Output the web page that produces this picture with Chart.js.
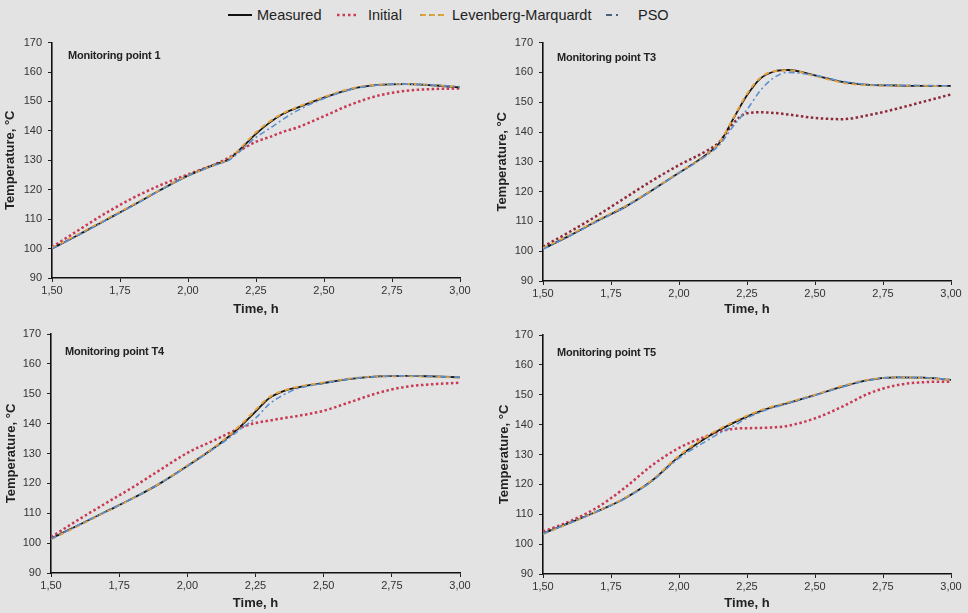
<!DOCTYPE html>
<html>
<head>
<meta charset="utf-8">
<script src="https://cdn.jsdelivr.net/npm/chart.js@4.4.1/dist/chart.umd.min.js"></script>
<style>
  html, body { margin:0; padding:0; }
  body { width:968px; height:613px; background:#e3e3e3; position:relative; overflow:hidden; font-family:"Liberation Sans", Arial, sans-serif; }
  canvas { position:absolute; }
  .lg { position:absolute; top:6px; font-size:14.5px; color:#222; white-space:nowrap; line-height:18px; }
  .sw { position:absolute; top:6px; }
  .pl { position:absolute; font-weight:bold; font-size:11px; color:#222; white-space:nowrap; letter-spacing:-0.2px; }
</style>
</head>
<body>
<svg class="sw" style="left:228px" width="24" height="18"><line x1="0" y1="9" x2="24" y2="9" stroke="#111" stroke-width="2"/></svg>
<div class="lg" style="left:257px">Measured</div>
<svg class="sw" style="left:336px" width="22" height="18"><line x1="1" y1="9" x2="21" y2="9" stroke="#c83a55" stroke-width="2.5" stroke-dasharray="2.5,3"/></svg>
<div class="lg" style="left:368px">Initial</div>
<svg class="sw" style="left:420px" width="26" height="18"><line x1="0" y1="9" x2="26" y2="9" stroke="#e6a23c" stroke-width="2" stroke-dasharray="6,3"/><line x1="0" y1="9" x2="26" y2="9" stroke="#7aa860" stroke-width="1" stroke-dasharray="2,7"/></svg>
<div class="lg" style="left:452px">Levenberg-Marquardt</div>
<svg class="sw" style="left:606px" width="22" height="18"><line x1="0" y1="9" x2="22" y2="9" stroke="#4a5f78" stroke-width="2" stroke-dasharray="6,4,2,10"/></svg>
<div class="lg" style="left:638px">PSO</div>

<canvas id="c1" width="480" height="290" style="left:0;top:30px"></canvas>
<canvas id="c2" width="488" height="290" style="left:480px;top:30px"></canvas>
<canvas id="c3" width="480" height="293" style="left:0;top:320px"></canvas>
<canvas id="c4" width="488" height="293" style="left:480px;top:320px"></canvas>

<div class="pl" style="left:68px;top:49px">Monitoring point 1</div>
<div class="pl" style="left:557px;top:51px">Monitoring point T3</div>
<div class="pl" style="left:65px;top:345px">Monitoring point T4</div>
<div class="pl" style="left:557px;top:346px">Monitoring point T5</div>

<script>
const times = [1.5,1.6,1.7,1.8,1.9,2.0,2.1,2.15,2.2,2.25,2.3,2.35,2.4,2.5,2.6,2.7,2.8,2.9,3.0];
const xTicks = [1.5,1.75,2.0,2.25,2.5,2.75,3.0];
const yTicks = [90,100,110,120,130,140,150,160,170];
const seriesNames = ['Measured','Initial','Levenberg-Marquardt','PSO'];

// Monitoring point 1
const p1Measured = [100,104.8,109.8,114.8,120,124.8,128.6,130.3,134.5,139,142.8,145.8,147.8,151.3,154.2,155.6,155.9,155.5,154.8];
const p1Initial  = [100.5,106.4,112.2,117.3,121.6,125.2,128.7,130.9,133.8,136.3,137.9,139.7,141.1,145,149,152,153.6,154.2,154.4];
const p1LM       = [100.2,105,110,115,120.1,124.8,128.5,130.4,134.8,139.5,143.2,146,148,151.5,154.4,155.7,155.9,155.6,154.9];
const p1PSO      = [100,104.7,109.7,114.7,119.9,124.7,128.4,130,133.8,137.8,140.8,144,146.8,151,154.1,155.6,155.9,155.6,155];

// Monitoring point T3
const p3Measured = [100.8,105.3,110.2,114.8,120.4,126.3,132.4,136.5,144.5,152.3,158,160.3,160.8,159,156.8,155.8,155.6,155.5,155.5];
const p3Initial  = [101.5,106.6,112,117.8,123.6,128.9,133.6,136.8,143,146.3,146.6,146.4,145.9,144.7,144.3,145.7,147.8,150.2,152.6];
const p3LM       = [101,105.5,110.4,115,120.5,126.4,132.3,136.6,144.8,152.8,158.3,160.4,160.7,158.8,156.6,155.7,155.6,155.5,155.4];
const p3PSO      = [100.7,105.2,110,114.7,120.3,126.2,132,135.8,142,147.5,154,158.3,160,159,157,155.9,155.7,155.6,155.5];

// Monitoring point T4
const p4Measured = [101.5,106,110.5,115,120,125.8,132,135.5,139.5,144,148.5,150.8,152,153.6,155,155.8,156,155.8,155.5];
const p4Initial  = [102,107.8,113.3,118.7,124.5,130.2,134.5,136.7,138.8,140.2,141,141.8,142.5,144.3,147.3,150.3,152.3,153.2,153.7];
const p4LM       = [101.3,105.8,110.4,115,120.1,126,132.2,135.8,140,144.6,148.8,151,152.2,153.8,155.1,155.8,155.9,155.7,155.4];
const p4PSO      = [101.4,106,110.5,115,120,125.7,131.8,135,138.5,141.8,146.5,149.5,151.6,153.5,155,155.8,156,155.8,155.5];

// Monitoring point T5
const p5Measured = [103.6,107.2,111,115.3,121.2,129.3,135.6,138.3,140.6,142.7,144.5,146,147.2,149.9,152.7,155,155.8,155.7,155];
const p5Initial  = [104.2,107.7,112.3,118.8,126.3,132.2,136.1,137.7,138.6,138.8,138.9,139.1,139.6,142.1,146,150.5,153.2,154.2,154.4];
const p5LM       = [103.4,107.1,111,115.4,121.4,129.6,136,138.6,140.9,143,144.8,146.2,147.4,150,152.9,155.1,155.8,155.6,154.9];
const p5PSO      = [103.5,107.1,110.9,115.2,121,128.8,134.5,137.2,139.5,142.2,144.2,145.8,147.1,149.8,152.6,154.9,155.8,155.7,155.1];

const FONT = '"Liberation Sans", Arial, sans-serif';
const pts = arr => arr.map((v,i) => ({x: times[i], y: v}));
const fmt = v => Number(v).toFixed(2).replace('.', ',');

function makePanel(id, m, ini, lm, pso, L) {
  const base = {pointRadius:0, fill:false, cubicInterpolationMode:'monotone'};
  new Chart(document.getElementById(id), {
    type: 'line',
    data: {
      datasets: [
        Object.assign({label: seriesNames[1], data: pts(ini), borderColor: L.initColor, borderWidth: 2.5, borderDash:[2.5,2.5], order:4}, base),
        Object.assign({label: seriesNames[0], data: pts(m), borderColor: '#151515', borderWidth: 1.8, order:3}, base),
        Object.assign({label: seriesNames[2], data: pts(lm), borderColor: '#e6a23c', borderWidth: 2, borderDash:[5,4], order:2}, base),
        Object.assign({label: seriesNames[3], data: pts(pso), borderColor: '#5b8fd0', borderWidth: 1.6, borderDash:[6,3,2,3], order:1}, base)
      ]
    },
    options: {
      responsive: false, animation: false, devicePixelRatio: 1,
      layout: {padding: {top: L.pt, right: L.pr, left: 0, bottom: 0}},
      plugins: {legend: {display: false}, tooltip: {enabled: false}},
      scales: {
        x: {
          type: 'linear', min: 1.5, max: 3.0,
          afterBuildTicks: s => { s.ticks = xTicks.map(v => ({value: v})); },
          ticks: {callback: fmt, font: {size: 11, family: FONT}, color: '#333', padding: 2, maxRotation: 0, autoSkip: false},
          grid: {display: true, drawOnChartArea: false, drawTicks: true, tickLength: 4, color: '#222'},
          border: {color: '#111', width: 1.6},
          title: {display: true, text: 'Time, h', color: '#222', font: {size: 13, weight: 'bold', family: FONT}, padding: {top: 0, bottom: L.xtp}},
          afterFit: s => { s.height = L.xh; }
        },
        y: {
          min: 90, max: 170,
          afterBuildTicks: s => { s.ticks = yTicks.map(v => ({value: v})); },
          ticks: {font: {size: 11, family: FONT}, color: '#333', padding: 6},
          grid: {display: true, drawOnChartArea: false, drawTicks: true, tickLength: 4, color: '#222'},
          border: {color: '#111', width: 1.6},
          title: {display: true, text: 'Temperature, °C', color: '#222', font: {size: 13, weight: 'bold', family: FONT}, padding: {top: L.ytp, bottom: 0}},
          afterFit: s => { s.width = L.yw; }
        }
      }
    }
  });
}

makePanel('c1', p1Measured, p1Initial, p1LM, p1PSO, {pt:10, pr:20, xh:42, yw:52, xtp:3, ytp:3, initColor:'#c83a55'});
makePanel('c2', p3Measured, p3Initial, p3LM, p3PSO, {pt:12, pr:17, xh:39, yw:63, xtp:3, ytp:15, initColor:'#8e2a3a'});
makePanel('c3', p4Measured, p4Initial, p4LM, p4PSO, {pt:14, pr:20, xh:40, yw:51, xtp:2, ytp:4, initColor:'#c83a55'});
makePanel('c4', p5Measured, p5Initial, p5LM, p5PSO, {pt:15, pr:17, xh:39, yw:63, xtp:2, ytp:17, initColor:'#c83a55'});
</script>
</body>
</html>
